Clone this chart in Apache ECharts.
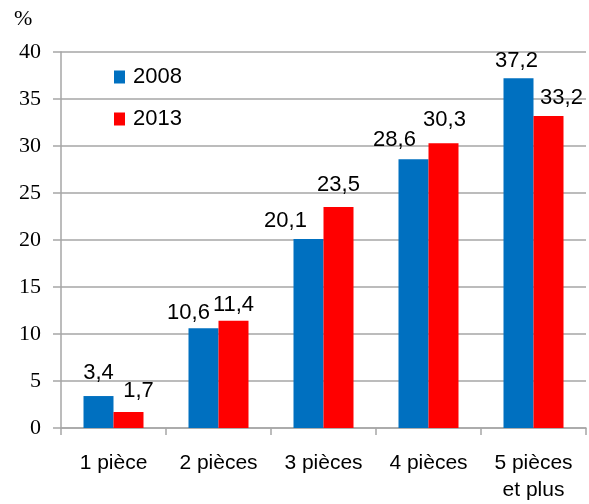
<!DOCTYPE html>
<html>
<head>
<meta charset="utf-8">
<script src="https://cdn.jsdelivr.net/npm/echarts@6/dist/echarts.min.js"></script>
<style>
  html, body { margin: 0; padding: 0; background: #fff; }
  #chart { width: 589px; height: 504px; }
</style>
</head>
<body>
<div id="chart"></div>
<script>
// Répartition des logements selon le nombre de pièces (%)
const categories = ['1 pièce', '2 pièces', '3 pièces', '4 pièces', '5 pièces\net plus'];
const values2008 = [3.4, 10.6, 20.1, 28.6, 37.2];
const values2013 = [1.7, 11.4, 23.5, 30.3, 33.2];
const yTicks = { min: 0, max: 40, interval: 5 };

// [dx, dy] nudges of the value labels so that neighbouring labels do not collide
const labelShift2008 = [[0, -5], [-15, 3], [-23, 0], [-19, -1], [-2, 1]];
const labelShift2013 = [[10, -3], [0, 2], [0, -4], [1, -5], [13, 0]];

const SANS = 'Liberation Sans, Arial, sans-serif';
const SERIF = '"Liberation Serif", "Times New Roman", serif';

const chart = echarts.init(document.getElementById('chart'), null, { renderer: 'canvas' });

const fmt = p => String(p.value).replace('.', ',');
const labelStyle = {
  show: true,
  position: 'top',
  distance: 7,
  formatter: fmt,
  fontFamily: SANS,
  fontSize: 22,
  color: '#000'
};

function withLabels(values, shifts) {
  return values.map((v, i) => ({ value: v, label: { offset: shifts[i] } }));
}

chart.setOption({
  animation: false,
  grid: { left: 61, right: 3, top: 52, bottom: 75, containLabel: false },
  legend: {
    orient: 'vertical',
    left: 114,
    top: 66,
    padding: 0,
    itemWidth: 11,
    itemHeight: 13,
    itemGap: 20,
    icon: 'rect',
    textStyle: { fontFamily: SANS, fontSize: 22, color: '#000', padding: [0, 0, 0, 3] },
    data: ['2008', '2013']
  },
  graphic: [{
    type: 'text',
    left: 14,
    top: 8,
    style: { text: '%', font: '22px ' + SERIF, fill: '#000' }
  }],
  xAxis: {
    type: 'category',
    data: categories,
    axisLine: { lineStyle: { color: '#a6a6a6', width: 1.5 } },
    axisTick: { show: true, alignWithLabel: false, length: 7, lineStyle: { color: '#a6a6a6', width: 1.5 } },
    axisLabel: {
      margin: 22,
      fontFamily: SANS,
      fontSize: 21,
      color: '#000',
      lineHeight: 27,
      interval: 0
    }
  },
  yAxis: {
    type: 'value',
    min: yTicks.min,
    max: yTicks.max,
    interval: yTicks.interval,
    axisLine: { show: true, lineStyle: { color: '#a6a6a6', width: 1.5 } },
    axisTick: { show: true, inside: false, length: 8, lineStyle: { color: '#a6a6a6', width: 1.5 } },
    splitLine: { show: true, lineStyle: { color: '#a6a6a6', width: 1.5 } },
    axisLabel: {
      margin: 20,
      fontFamily: SERIF,
      fontSize: 22,
      color: '#000'
    }
  },
  series: [
    {
      name: '2008',
      type: 'bar',
      data: withLabels(values2008, labelShift2008),
      barWidth: 30,
      barGap: '0%',
      itemStyle: { color: '#0070c0' },
      label: labelStyle
    },
    {
      name: '2013',
      type: 'bar',
      data: withLabels(values2013, labelShift2013),
      barWidth: 30,
      itemStyle: { color: '#ff0000' },
      label: labelStyle
    }
  ]
});
</script>
</body>
</html>
